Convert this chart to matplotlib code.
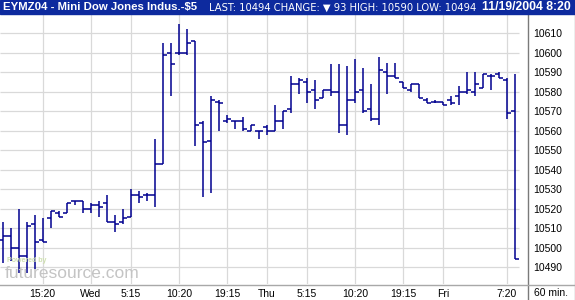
import matplotlib
matplotlib.use("Agg")
import matplotlib.pyplot as plt
from matplotlib.lines import Line2D

# 60 min OHLC bars, EYMZ04
opens = [10504, 10506, 10500, 10496, 10512, 10504, 10515, 10518, 10518, 10524,
         10524, 10520, 10522, 10523, 10513, 10513, 10516, 10527, 10527, 10527,
         10543, 10600, 10600, 10600, 10606, 10564, 10555, 10575, 10565, 10565,
         10565, 10560, 10560, 10562, 10560, 10565, 10571, 10584, 10585, 10581,
         10577, 10581, 10580, 10563, 10576, 10581, 10571, 10566, 10590, 10588,
         10585, 10581, 10584, 10576, 10575, 10575, 10576, 10578, 10580, 10580,
         10582, 10588, 10589, 10586, 10570]
highs = [10513, 10510, 10520, 10513, 10517, 10515, 10519, 10519, 10523, 10524,
         10524, 10523, 10524, 10527, 10517, 10520, 10530, 10529, 10528, 10556,
         10605, 10605, 10615, 10612, 10606, 10565, 10578, 10576, 10568, 10565,
         10567, 10563, 10560, 10563, 10573, 10570, 10588, 10587, 10587, 10586,
         10581, 10594, 10594, 10593, 10597, 10592, 10584, 10598, 10595, 10595,
         10585, 10584, 10584, 10577, 10576, 10575, 10578, 10583, 10590, 10590,
         10589, 10589, 10590, 10587, 10589]
lows = [10492, 10493, 10487, 10487, 10489, 10503, 10510, 10516, 10518, 10522,
        10518, 10518, 10516, 10513, 10508, 10512, 10516, 10523, 10524, 10521,
        10543, 10578, 10599, 10599, 10552, 10526, 10528, 10560, 10564, 10561,
        10560, 10560, 10556, 10558, 10560, 10561, 10569, 10579, 10574, 10571,
        10577, 10578, 10559, 10558, 10574, 10569, 10565, 10563, 10579, 10587,
        10582, 10580, 10577, 10574, 10574, 10573, 10573, 10573, 10579, 10578,
        10582, 10581, 10587, 10566, 10494]
closes = [10506, 10500, 10496, 10511, 10503, 10503, 10519, 10516, 10523, 10524,
          10520, 10522, 10521, 10513, 10512, 10515, 10527, 10526, 10527, 10543,
          10599, 10594, 10600, 10605, 10563, 10554, 10576, 10574, 10566, 10565,
          10561, 10563, 10560, 10560, 10565, 10570, 10584, 10586, 10580, 10576,
          10581, 10580, 10563, 10576, 10580, 10570, 10566, 10591, 10588, 10587,
          10582, 10584, 10577, 10574, 10575, 10573, 10574, 10580, 10581, 10584,
          10589, 10588, 10587, 10569, 10494]

x_tick_bars = [5, 11, 16, 22, 28, 33, 38, 44, 50, 55, 63]
x_tick_labels = ["15:20", "Wed", "5:15", "10:20", "19:15", "Thu",
                 "5:15", "10:20", "19:15", "Fri", "7:20"]
y_ticks = list(range(10490, 10611, 10))

title_left = "EYMZ04 - Mini Dow Jones Indus.-$5"
title_mid = "LAST: 10494 CHANGE: \u25bc 93 HIGH: 10590 LOW: 10494"
title_right = "11/19/2004 8:20"

W, H = 575, 300
bar_col = "#00008f"
grid_col = "#d9d9d9"
fam = ["Liberation Sans", "DejaVu Sans"]
plt.rcParams["font.family"] = fam

fig = plt.figure(figsize=(W / 100, H / 100), dpi=100)
fig.patch.set_facecolor("w")

# plot box: x 0..527 px, y 14..284 px
ax = fig.add_axes([0, 16 / H, 527 / W, 270 / H])
ax.set_xlim(-0.34, 65.5)
ax.set_ylim(10481.4, 10619.9)
for s in ax.spines.values():
    s.set_visible(False)

ax.hlines(y_ticks, -0.34, 64.5, color=grid_col, lw=0.9, zorder=1)
for xb in x_tick_bars:
    ax.axvline(xb, color=grid_col, lw=0.9, zorder=1)

idx = list(range(len(opens)))
ax.vlines(idx, lows, highs, color=bar_col, lw=1.1, zorder=3)
ax.hlines(opens, [i - 0.5 for i in idx], idx, color=bar_col, lw=1.1, zorder=3)
ax.hlines(closes, idx, [i + 0.5 for i in idx], color=bar_col, lw=1.1, zorder=3)

ax.yaxis.tick_right()
ax.set_yticks(y_ticks)
ax.set_yticklabels([str(v) for v in y_ticks], fontsize=7.5)
ax.tick_params(axis="y", length=0, pad=4.5)
ax.set_xticks(x_tick_bars)
ax.set_xticklabels(x_tick_labels, fontsize=7.5)
ax.tick_params(axis="x", length=0, pad=3.5)

# frame lines
fig.add_artist(Line2D([527.5 / W] * 2, [0, 1 - 14 / H], color="#7a7a7a", lw=1.0))
fig.add_artist(Line2D([0, 1], [1 - 284.5 / H] * 2, color="#a8a8a8", lw=1.0))
fig.add_artist(Line2D([574.5 / W] * 2, [0, 1 - 14 / H], color="#a8a8a8", lw=1.0))
fig.text(551 / W, 1 - 293 / H, "60 min.", fontsize=7.5, ha="center", va="center")

# watermark
fig.text(7 / W, 1 - 261 / H, "Powered by", fontsize=5, color="#cfe0b0",
         ha="left", va="center", fontweight="bold")
fig.text(5 / W, 1 - 274 / H, "futuresource.com", fontsize=12.5, color="#c4c4c4",
         ha="left", va="center")

# title bar
fig.add_artist(plt.Rectangle((0, 1 - 14 / H), 1, 14 / H, transform=fig.transFigure,
                             color="#0d2a9e", zorder=5))
fig.text(3 / W, 1 - 7 / H, title_left, color="w", fontsize=8.2, fontweight="bold",
         ha="left", va="center", zorder=6)
fig.text(209 / W, 1 - 7.5 / H, title_mid, color="w", fontsize=7.2,
         family=["DejaVu Sans"], ha="left", va="center", zorder=6)
fig.text(571 / W, 1 - 7 / H, title_right, color="w", fontsize=8.8, fontweight="bold",
         ha="right", va="center", zorder=6)

fig.savefig("out.png", dpi=100, facecolor="w")
